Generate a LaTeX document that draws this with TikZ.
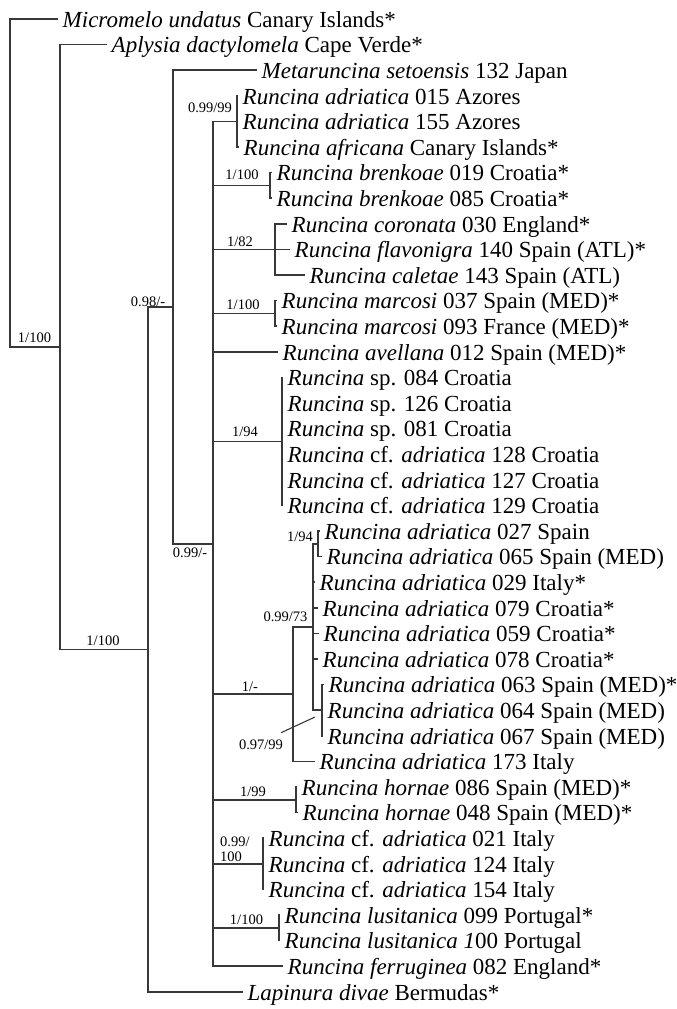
\documentclass[tikz,border=0pt]{standalone}
\usepackage{fontspec}
\setmainfont{Liberation Serif}
\begin{document}
\begin{tikzpicture}[x=1pt,y=-1pt,
  branch/.style={draw=black!78,line width=1.5pt},
  leader/.style={draw=black!78,line width=1.1pt},
  leaf/.style={anchor=west,inner xsep=4.5pt,inner ysep=0pt,text height=20pt,text depth=3.6pt,
    font=\fontsize{23}{24}\selectfont},
  support/.style={inner sep=0pt,text height=10pt,text depth=0.3pt,
    font=\fontsize{14.5}{16}\selectfont}]
\useasboundingbox (0,0) rectangle (677,1009);

% ---- terminal taxa (x = end of branch, y = row) ----
\node[leaf] (t01) at (58,19.0)   {\textit{Micromelo undatus} Canary Islands*};
\node[leaf] (t02) at (107,44.6)  {\textit{Aplysia dactylomela} Cape Verde*};
\node[leaf] (t03) at (257,70.2)  {\textit{Metaruncina setoensis} 132 Japan};
\node[leaf] (t04) at (238,95.8)  {\textit{Runcina adriatica} 015 Azores};
\node[leaf] (t05) at (238,121.4) {\textit{Runcina adriatica} 155 Azores};
\node[leaf] (t06) at (239,147.0) {\textit{Runcina africana} Canary Islands*};
\node[leaf] (t07) at (272,172.6) {\textit{Runcina brenkoae} 019 Croatia*};
\node[leaf] (t08) at (272,198.2) {\textit{Runcina brenkoae} 085 Croatia*};
\node[leaf] (t09) at (287,223.8) {\textit{Runcina coronata} 030 England*};
\node[leaf] (t10) at (290,249.4) {\textit{Runcina flavonigra} 140 Spain (ATL)*};
\node[leaf] (t11) at (305,275.0) {\textit{Runcina caletae} 143 Spain (ATL)};
\node[leaf] (t12) at (277,300.6) {\textit{Runcina marcosi} 037 Spain (MED)*};
\node[leaf] (t13) at (277,326.2) {\textit{Runcina marcosi} 093 France (MED)*};
\node[leaf] (t14) at (278,351.8) {\textit{Runcina avellana} 012 Spain (MED)*};
\node[leaf] (t15) at (283,377.4) {\textit{Runcina} sp. 084 Croatia};
\node[leaf] (t16) at (283,403.0) {\textit{Runcina} sp. 126 Croatia};
\node[leaf] (t17) at (283,428.6) {\textit{Runcina} sp. 081 Croatia};
\node[leaf] (t18) at (283,454.2) {\textit{Runcina} cf. \textit{adriatica} 128 Croatia};
\node[leaf] (t19) at (283,479.8) {\textit{Runcina} cf. \textit{adriatica} 127 Croatia};
\node[leaf] (t20) at (283,505.4) {\textit{Runcina} cf. \textit{adriatica} 129 Croatia};
\node[leaf] (t21) at (320,531.0) {\textit{Runcina adriatica} 027 Spain};
\node[leaf] (t22) at (322,556.6) {\textit{Runcina adriatica} 065 Spain (MED)};
\node[leaf] (t23) at (315,582.2) {\textit{Runcina adriatica} 029 Italy*};
\node[leaf] (t24) at (318,607.8) {\textit{Runcina adriatica} 079 Croatia*};
\node[leaf] (t25) at (319,633.4) {\textit{Runcina adriatica} 059 Croatia*};
\node[leaf] (t26) at (318,659.0) {\textit{Runcina adriatica} 078 Croatia*};
\node[leaf] (t27) at (324,684.6) {\textit{Runcina adriatica} 063 Spain (MED)*};
\node[leaf] (t28) at (323,710.2) {\textit{Runcina adriatica} 064 Spain (MED)};
\node[leaf] (t29) at (323,735.8) {\textit{Runcina adriatica} 067 Spain (MED)};
\node[leaf] (t30) at (315,761.4) {\textit{Runcina adriatica} 173 Italy};
\node[leaf] (t31) at (297,787.0) {\textit{Runcina hornae} 086 Spain (MED)*};
\node[leaf] (t32) at (298,812.6) {\textit{Runcina hornae} 048 Spain (MED)*};
\node[leaf] (t33) at (264,838.2) {\textit{Runcina} cf. \textit{adriatica} 021 Italy};
\node[leaf] (t34) at (264,863.8) {\textit{Runcina} cf. \textit{adriatica} 124 Italy};
\node[leaf] (t35) at (264,889.4) {\textit{Runcina} cf. \textit{adriatica} 154 Italy};
\node[leaf] (t36) at (280,915.0) {\textit{Runcina lusitanica} 099 Portugal*};
\node[leaf] (t37) at (280,940.6) {\textit{Runcina lusitanica 1}00 Portugal};
\node[leaf] (t38) at (283,966.2) {\textit{Runcina ferruginea} 082 England*};
\node[leaf] (t39) at (243,991.8) {\textit{Lapinura divae} Bermudas*};

% ---- internal nodes ----
\coordinate (root) at (10,183.0);
\coordinate (nA)   at (60,347.0);
\coordinate (nB)   at (148,649.4);
\coordinate (nC)   at (173,307.0);
\coordinate (nD)   at (213,543.8);
\coordinate (c1)   at (237,121.4);
\coordinate (c2)   at (270,185.4);
\coordinate (c3)   at (275,249.4);
\coordinate (c4)   at (275,313.4);
\coordinate (c5)   at (282,441.4);
\coordinate (c6)   at (293,694.2);
\coordinate (d1)   at (313,627.0);
\coordinate (e1)   at (318,543.8);
\coordinate (e2)   at (322,710.2);
\coordinate (c7)   at (296,799.8);
\coordinate (c8)   at (263,863.8);
\coordinate (c9)   at (279,927.8);

% ---- branches ----
\draw[branch] (root) |- (t01.west)  (root) |- (nA);
\draw[branch] (nA) |- (t02.west)  (nA) |- (nB);
\draw[branch] (nB) |- (nC)  (nB) |- (t39.west);
\draw[branch] (nC) |- (t03.west)  (nC) |- (nD);
\draw[branch] (nD) |- (c1)  (nD) |- (c2)  (nD) |- (c3)  (nD) |- (c4)
  (nD) |- (t14.west)  (nD) |- (c5)  (nD) |- (c6)  (nD) |- (c7)
  (nD) |- (c8)  (nD) |- (c9)  (nD) |- (t38.west);
\draw[branch] (c1) |- (t04.west)  (c1) |- (t05.west)  (c1) |- (t06.west);
\draw[branch] (c2) |- (t07.west)  (c2) |- (t08.west);
\draw[branch] (c3) |- (t09.west)  (c3) |- (t10.west)  (c3) |- (t11.west);
\draw[branch] (c4) |- (t12.west)  (c4) |- (t13.west);
\draw[branch] (c5) |- (t15.west)  (c5) |- (t16.west)  (c5) |- (t17.west)
  (c5) |- (t18.west)  (c5) |- (t19.west)  (c5) |- (t20.west);
\draw[branch] (c6) |- (d1)  (c6) |- (t30.west);
\draw[branch] (d1) |- (e1)  (d1) |- (t23.west)  (d1) |- (t24.west)
  (d1) |- (t25.west)  (d1) |- (t26.west)  (d1) |- (e2);
\draw[branch] (e1) |- (t21.west)  (e1) |- (t22.west);
\draw[branch] (e2) |- (t27.west)  (e2) |- (t28.west)  (e2) |- (t29.west);
\draw[branch] (c7) |- (t31.west)  (c7) |- (t32.west);
\draw[branch] (c8) |- (t33.west)  (c8) |- (t34.west)  (c8) |- (t35.west);
\draw[branch] (c9) |- (t36.west)  (c9) |- (t37.west);

% ---- support values ----
\node[support] (sA)  at (34.5,338)  {1/100};
\node[support] (sB)  at (103,641)   {1/100};
\node[support] (sC)  at (148,302)   {0.98/-};
\node[support] (sD)  at (190,553)   {0.99/-};
\node[support] (s1)  at (210,108)   {0.99/99};
\node[support] (s2)  at (242,175)   {1/100};
\node[support] (s3)  at (240,242)   {1/82};
\node[support] (s4)  at (243,305)   {1/100};
\node[support] (s5)  at (245,432)   {1/94};
\node[support] (s6)  at (250,687)   {1/-};
\node[support] (sd1) at (285.5,617) {0.99/73};
\node[support] (se1) at (300,537)   {1/94};
\node[support] (se2) at (261,745)   {0.97/99};
\node[support,anchor=west] (s8a) at (220,842) {0.99/};
\node[support,anchor=west] (s8b) at (220,857) {100};
\node[support] (s7)  at (253,792)   {1/99};
\node[support] (s9)  at (246.5,920) {1/100};

% leader from the 0.97/99 value to its node
\coordinate (q2) at (315,717);
\draw[leader] (se2.north east) ++(-2,-7) -- (q2);
\end{tikzpicture}
\end{document}
